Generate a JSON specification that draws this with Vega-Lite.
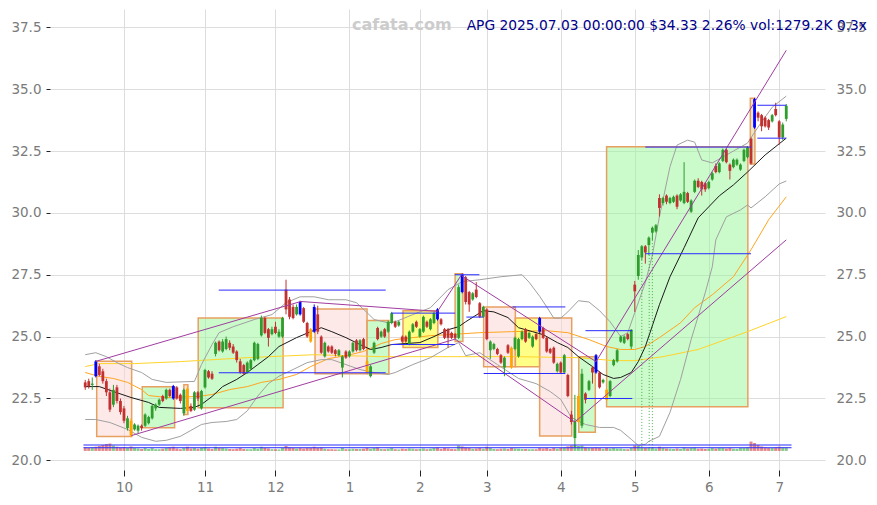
{
"$schema":"https://vega.github.io/schema/vega-lite/v6.json",
"width":775,"height":461,
"autosize":{"type":"none"},
"padding":{"left":50,"top":9,"right":52,"bottom":35},
"background":"white",
"title":{"text":"APG 2025.07.03 00:00:00 $34.33 2.26% vol:1279.2K 0.3x","anchor":"end","frame":"group","orient":"top","offset":-35,"dx":42,"fontSize":13.8,"fontWeight":"normal","color":"#00008b","font":"DejaVu Sans","baseline":"alphabetic"},
"config":{"view":{"stroke":null},"font":"DejaVu Sans","scale":{"continuousPadding":0}},
"resolve":{"axis":{"x":"independent","y":"independent"}},
"datasets":{
"k":[
{"i":0,"o":23.15,"h":23.25,"l":22.85,"c":22.95,"v":20.52},
{"i":1,"o":23.2,"h":23.3,"l":22.9,"c":23.0,"v":20.5},
{"i":2,"o":23.05,"h":23.35,"l":22.85,"c":23.1,"v":20.52},
{"i":3,"o":23.4,"h":24.05,"l":23.35,"c":24.0,"v":20.55,"t":"b"},
{"i":4,"o":23.8,"h":23.9,"l":23.4,"c":23.45,"v":20.58},
{"i":5,"o":23.6,"h":23.7,"l":23.1,"c":23.2,"v":20.62},
{"i":6,"o":23.2,"h":23.3,"l":22.6,"c":22.75,"v":20.66},
{"i":7,"o":22.75,"h":22.9,"l":21.95,"c":22.05,"v":20.68},
{"i":8,"o":22.25,"h":23.05,"l":22.15,"c":22.85,"v":20.6},
{"i":9,"o":22.95,"h":23.05,"l":22.3,"c":22.4,"v":20.55},
{"i":10,"o":22.4,"h":22.5,"l":21.85,"c":21.95,"v":20.52},
{"i":11,"o":22.1,"h":22.2,"l":21.5,"c":21.6,"v":20.54},
{"i":12,"o":21.3,"h":21.8,"l":21.2,"c":21.7,"v":20.5},
{"i":13,"o":21.6,"h":21.7,"l":20.95,"c":21.0,"v":20.56,"t":"o"},
{"i":14,"o":21.25,"h":21.5,"l":21.2,"c":21.45,"v":20.5},
{"i":15,"o":21.2,"h":21.45,"l":21.1,"c":21.4,"v":20.48},
{"i":16,"o":21.4,"h":21.45,"l":21.2,"c":21.3,"v":20.46},
{"i":17,"o":21.4,"h":21.9,"l":21.35,"c":21.85,"v":20.5},
{"i":18,"o":21.5,"h":21.8,"l":21.45,"c":21.75,"v":20.46},
{"i":19,"o":21.7,"h":22.25,"l":21.65,"c":22.2,"v":20.5},
{"i":20,"o":22.1,"h":22.3,"l":22.0,"c":22.25,"v":20.45},
{"i":21,"o":22.25,"h":22.5,"l":22.2,"c":22.45,"v":20.45},
{"i":22,"o":22.6,"h":22.65,"l":22.35,"c":22.4,"v":20.47},
{"i":23,"o":22.5,"h":22.9,"l":22.45,"c":22.85,"v":20.5},
{"i":24,"o":22.85,"h":22.9,"l":22.55,"c":22.6,"v":20.52},
{"i":25,"o":22.5,"h":23.05,"l":22.45,"c":23.0,"v":20.55,"t":"b"},
{"i":26,"o":22.95,"h":23.0,"l":22.45,"c":22.5,"v":20.48},
{"i":27,"o":22.65,"h":22.7,"l":22.3,"c":22.4,"v":20.45},
{"i":28,"o":21.9,"h":22.9,"l":21.8,"c":22.85,"v":20.5},
{"i":29,"o":22.9,"h":23.0,"l":21.9,"c":22.0,"v":20.55,"t":"o"},
{"i":30,"o":22.2,"h":22.3,"l":21.95,"c":22.0,"v":20.48},
{"i":31,"o":22.05,"h":22.8,"l":22.0,"c":22.75,"v":20.5},
{"i":32,"o":22.75,"h":22.8,"l":22.4,"c":22.5,"v":20.47},
{"i":33,"o":22.1,"h":22.85,"l":22.05,"c":22.8,"v":20.5},
{"i":34,"o":22.95,"h":23.7,"l":22.9,"c":23.65,"v":20.54},
{"i":35,"o":23.6,"h":23.65,"l":23.3,"c":23.35,"v":20.48},
{"i":36,"o":23.5,"h":23.6,"l":23.25,"c":23.3,"v":20.46},
{"i":37,"o":24.3,"h":24.8,"l":24.2,"c":24.75,"v":20.55},
{"i":38,"o":24.8,"h":24.85,"l":24.4,"c":24.45,"v":20.5},
{"i":39,"o":24.4,"h":24.9,"l":24.35,"c":24.8,"v":20.5},
{"i":40,"o":24.5,"h":25.0,"l":24.45,"c":24.9,"v":20.48},
{"i":41,"o":24.75,"h":24.85,"l":24.45,"c":24.55,"v":20.46},
{"i":42,"o":24.6,"h":24.7,"l":24.3,"c":24.35,"v":20.45},
{"i":43,"o":24.4,"h":24.45,"l":23.95,"c":24.05,"v":20.47},
{"i":44,"o":24.0,"h":24.1,"l":23.5,"c":23.55,"v":20.5},
{"i":45,"o":23.85,"h":23.9,"l":23.45,"c":23.5,"v":20.46},
{"i":46,"o":23.55,"h":24.0,"l":23.5,"c":23.95,"v":20.45},
{"i":47,"o":23.7,"h":24.1,"l":23.65,"c":24.05,"v":20.45},
{"i":48,"o":24.05,"h":24.8,"l":24.0,"c":24.75,"v":20.5},
{"i":49,"o":24.1,"h":24.75,"l":24.05,"c":24.7,"v":20.47},
{"i":50,"o":25.05,"h":25.85,"l":25.0,"c":25.75,"v":20.55},
{"i":51,"o":25.75,"h":25.8,"l":25.1,"c":25.15,"v":20.5},
{"i":52,"o":25.3,"h":25.35,"l":24.6,"c":24.95,"v":20.48},
{"i":53,"o":25.1,"h":25.4,"l":25.05,"c":25.3,"v":20.45},
{"i":54,"o":25.4,"h":25.6,"l":25.1,"c":25.15,"v":20.45},
{"i":55,"o":25.0,"h":25.3,"l":24.95,"c":25.2,"v":20.44},
{"i":56,"o":25.0,"h":25.8,"l":24.95,"c":25.75,"v":20.5},
{"i":57,"o":26.9,"h":27.3,"l":25.9,"c":26.1,"v":20.58},
{"i":58,"o":26.5,"h":26.6,"l":25.7,"c":25.8,"v":20.52},
{"i":59,"o":26.2,"h":26.3,"l":25.7,"c":25.75,"v":20.5},
{"i":60,"o":25.9,"h":26.3,"l":25.85,"c":26.2,"v":20.48},
{"i":61,"o":25.9,"h":26.45,"l":25.85,"c":26.4,"v":20.5,"t":"b"},
{"i":62,"o":26.15,"h":26.2,"l":25.55,"c":25.6,"v":20.48},
{"i":63,"o":25.55,"h":25.6,"l":24.95,"c":25.0,"v":20.5},
{"i":64,"o":25.3,"h":25.35,"l":24.75,"c":24.8,"v":20.5,"t":"o"},
{"i":65,"o":25.2,"h":26.3,"l":25.15,"c":26.2,"v":20.55,"t":"b"},
{"i":66,"o":25.9,"h":26.25,"l":25.1,"c":25.2,"v":20.5},
{"i":67,"o":25.0,"h":25.05,"l":24.3,"c":24.35,"v":20.52},
{"i":68,"o":24.2,"h":24.8,"l":24.15,"c":24.75,"v":20.47},
{"i":69,"o":24.6,"h":24.65,"l":24.35,"c":24.4,"v":20.45},
{"i":70,"o":24.6,"h":24.65,"l":24.3,"c":24.35,"v":20.45},
{"i":71,"o":24.45,"h":24.5,"l":24.2,"c":24.3,"v":20.44},
{"i":72,"o":24.25,"h":24.5,"l":24.2,"c":24.45,"v":20.44},
{"i":73,"o":23.75,"h":24.25,"l":23.35,"c":24.2,"v":20.5},
{"i":74,"o":24.4,"h":24.45,"l":24.1,"c":24.15,"v":20.45},
{"i":75,"o":24.2,"h":24.45,"l":24.15,"c":24.4,"v":20.45},
{"i":76,"o":24.4,"h":24.8,"l":24.35,"c":24.75,"v":20.47},
{"i":77,"o":24.85,"h":24.9,"l":24.4,"c":24.45,"v":20.46},
{"i":78,"o":24.45,"h":24.9,"l":24.4,"c":24.85,"v":20.46},
{"i":79,"o":24.9,"h":24.95,"l":24.45,"c":24.5,"v":20.47},
{"i":80,"o":24.0,"h":24.05,"l":23.5,"c":23.55,"v":20.5,"t":"o"},
{"i":81,"o":23.4,"h":23.85,"l":23.35,"c":23.8,"v":20.47},
{"i":82,"o":24.35,"h":24.8,"l":24.3,"c":24.75,"v":20.5},
{"i":83,"o":25.35,"h":25.4,"l":24.85,"c":24.9,"v":20.52},
{"i":84,"o":25.0,"h":25.25,"l":24.95,"c":25.2,"v":20.46},
{"i":85,"o":25.3,"h":25.35,"l":24.95,"c":25.0,"v":20.45},
{"i":86,"o":25.2,"h":25.65,"l":25.15,"c":25.6,"v":20.47},
{"i":87,"o":25.55,"h":26.0,"l":25.5,"c":25.95,"v":20.5},
{"i":88,"o":25.6,"h":25.65,"l":25.35,"c":25.4,"v":20.45},
{"i":89,"o":25.45,"h":25.65,"l":25.4,"c":25.6,"v":20.44},
{"i":90,"o":25.0,"h":25.05,"l":24.75,"c":24.8,"v":20.47},
{"i":91,"o":25.0,"h":25.05,"l":24.75,"c":24.8,"v":20.46},
{"i":92,"o":24.7,"h":25.25,"l":24.65,"c":25.2,"v":20.48},
{"i":93,"o":25.2,"h":25.55,"l":25.15,"c":25.5,"v":20.47},
{"i":94,"o":25.6,"h":25.65,"l":25.35,"c":25.4,"v":20.45},
{"i":95,"o":25.0,"h":25.35,"l":24.95,"c":25.3,"v":20.46},
{"i":96,"o":25.2,"h":25.85,"l":25.15,"c":25.8,"v":20.48},
{"i":97,"o":25.6,"h":25.65,"l":25.35,"c":25.4,"v":20.45},
{"i":98,"o":25.3,"h":25.75,"l":25.25,"c":25.7,"v":20.47},
{"i":99,"o":25.55,"h":26.0,"l":25.5,"c":25.95,"v":20.5},
{"i":100,"o":25.7,"h":26.15,"l":25.65,"c":26.1,"v":20.52,"t":"b"},
{"i":101,"o":25.7,"h":25.75,"l":25.45,"c":25.5,"v":20.46},
{"i":102,"o":25.3,"h":25.35,"l":24.9,"c":24.95,"v":20.5},
{"i":103,"o":25.3,"h":25.35,"l":24.55,"c":24.95,"v":20.48},
{"i":104,"o":25.15,"h":25.2,"l":24.9,"c":24.95,"v":20.46},
{"i":105,"o":25.1,"h":25.15,"l":24.9,"c":24.95,"v":20.45},
{"i":106,"o":24.95,"h":27.1,"l":24.9,"c":27.0,"v":20.6},
{"i":107,"o":26.8,"h":27.55,"l":26.75,"c":27.5,"v":20.56,"t":"b"},
{"i":108,"o":27.4,"h":27.45,"l":26.3,"c":26.4,"v":20.52},
{"i":109,"o":26.8,"h":26.85,"l":26.0,"c":26.3,"v":20.5},
{"i":110,"o":26.5,"h":26.8,"l":26.45,"c":26.75,"v":20.47},
{"i":111,"o":26.9,"h":27.2,"l":26.55,"c":26.6,"v":20.48},
{"i":112,"o":26.35,"h":26.4,"l":25.75,"c":25.8,"v":20.5},
{"i":113,"o":25.8,"h":26.25,"l":25.75,"c":26.2,"v":20.47},
{"i":114,"o":26.1,"h":26.15,"l":24.85,"c":24.9,"v":20.55},
{"i":115,"o":24.45,"h":24.85,"l":24.1,"c":24.8,"v":20.5},
{"i":116,"o":24.5,"h":24.75,"l":24.45,"c":24.7,"v":20.46},
{"i":117,"o":24.5,"h":24.55,"l":24.25,"c":24.3,"v":20.45},
{"i":118,"o":24.25,"h":24.3,"l":23.9,"c":23.95,"v":20.47},
{"i":119,"o":23.75,"h":24.2,"l":23.4,"c":24.15,"v":20.48},
{"i":120,"o":24.65,"h":24.7,"l":24.3,"c":24.35,"v":20.46},
{"i":121,"o":24.55,"h":24.6,"l":23.7,"c":23.75,"v":20.5,"t":"o"},
{"i":122,"o":24.5,"h":25.0,"l":24.45,"c":24.95,"v":20.48},
{"i":123,"o":24.2,"h":24.95,"l":24.15,"c":24.9,"v":20.47},
{"i":124,"o":24.9,"h":25.25,"l":24.85,"c":25.2,"v":20.46},
{"i":125,"o":25.3,"h":25.35,"l":24.75,"c":24.8,"v":20.46},
{"i":126,"o":24.95,"h":25.2,"l":24.9,"c":25.15,"v":20.45},
{"i":127,"o":24.6,"h":25.05,"l":24.55,"c":25.0,"v":20.45},
{"i":128,"o":25.1,"h":25.15,"l":24.85,"c":24.9,"v":20.45},
{"i":129,"o":25.2,"h":25.8,"l":25.15,"c":25.75,"v":20.5,"t":"b"},
{"i":130,"o":25.35,"h":25.4,"l":24.9,"c":24.95,"v":20.48},
{"i":131,"o":24.95,"h":25.0,"l":24.35,"c":24.4,"v":20.5},
{"i":132,"o":24.5,"h":24.55,"l":24.3,"c":24.35,"v":20.46},
{"i":133,"o":24.55,"h":24.6,"l":23.9,"c":23.95,"v":20.5},
{"i":134,"o":23.6,"h":23.95,"l":23.55,"c":23.9,"v":20.47},
{"i":135,"o":23.95,"h":24.0,"l":23.5,"c":23.55,"v":20.5},
{"i":136,"o":23.55,"h":24.3,"l":23.5,"c":24.25,"v":20.52},
{"i":137,"o":23.45,"h":23.5,"l":22.55,"c":22.6,"v":20.56},
{"i":138,"o":21.85,"h":22.0,"l":21.45,"c":21.55,"v":20.6},
{"i":139,"o":20.9,"h":22.65,"l":20.5,"c":21.6,"v":20.62},
{"i":140,"o":21.55,"h":22.7,"l":21.5,"c":22.6,"v":20.58,"t":"o"},
{"i":141,"o":21.4,"h":23.7,"l":21.3,"c":23.5,"v":20.6},
{"i":142,"o":22.7,"h":22.75,"l":22.3,"c":22.45,"v":20.52},
{"i":143,"o":22.85,"h":23.25,"l":22.8,"c":23.2,"v":20.5},
{"i":144,"o":23.75,"h":23.8,"l":23.1,"c":23.55,"v":20.5},
{"i":145,"o":23.55,"h":24.3,"l":23.5,"c":24.25,"v":20.52,"t":"b"},
{"i":146,"o":23.55,"h":23.6,"l":22.9,"c":22.95,"v":20.5},
{"i":147,"o":23.15,"h":23.3,"l":23.1,"c":23.25,"v":20.47},
{"i":148,"o":22.85,"h":22.9,"l":22.4,"c":22.45,"v":20.5,"t":"o"},
{"i":149,"o":22.6,"h":23.25,"l":22.55,"c":23.2,"v":20.48},
{"i":150,"o":23.85,"h":24.1,"l":23.8,"c":24.05,"v":20.5},
{"i":151,"o":24.0,"h":24.5,"l":23.95,"c":24.45,"v":20.48},
{"i":152,"o":24.8,"h":25.05,"l":24.75,"c":25.0,"v":20.48},
{"i":153,"o":24.75,"h":25.05,"l":24.7,"c":25.0,"v":20.46},
{"i":154,"o":25.1,"h":25.15,"l":24.85,"c":24.9,"v":20.45},
{"i":155,"o":24.6,"h":25.3,"l":24.5,"c":25.28,"v":20.5},
{"i":156,"o":27.1,"h":27.25,"l":26.0,"c":26.83,"v":20.6},
{"i":157,"o":27.45,"h":28.5,"l":27.3,"c":28.3,"v":20.58},
{"i":158,"o":28.2,"h":28.7,"l":28.1,"c":28.65,"v":20.52},
{"i":159,"o":28.65,"h":28.7,"l":27.95,"c":28.4,"v":20.5},
{"i":160,"o":28.7,"h":29.05,"l":28.3,"c":29.0,"v":20.5},
{"i":161,"o":29.2,"h":29.45,"l":28.9,"c":29.4,"v":20.52},
{"i":162,"o":29.25,"h":29.55,"l":29.2,"c":29.5,"v":20.48},
{"i":163,"o":30.6,"h":30.75,"l":29.85,"c":30.2,"v":20.55},
{"i":164,"o":30.4,"h":30.65,"l":30.3,"c":30.6,"v":20.5},
{"i":165,"o":30.7,"h":30.75,"l":30.35,"c":30.45,"v":20.48},
{"i":166,"o":30.4,"h":30.65,"l":30.35,"c":30.6,"v":20.47},
{"i":167,"o":30.45,"h":30.7,"l":30.4,"c":30.65,"v":20.46},
{"i":168,"o":30.7,"h":30.75,"l":30.15,"c":30.25,"v":20.48},
{"i":169,"o":30.5,"h":30.8,"l":30.45,"c":30.75,"v":20.46},
{"i":170,"o":30.4,"h":32.05,"l":30.35,"c":30.85,"v":20.52},
{"i":171,"o":30.8,"h":30.85,"l":30.4,"c":30.45,"v":20.48},
{"i":172,"o":30.05,"h":30.55,"l":30.0,"c":30.5,"v":20.5},
{"i":173,"o":30.85,"h":31.35,"l":30.8,"c":31.3,"v":20.52},
{"i":174,"o":31.3,"h":31.4,"l":31.0,"c":31.05,"v":20.47},
{"i":175,"o":31.25,"h":31.3,"l":30.7,"c":30.95,"v":20.48},
{"i":176,"o":31.2,"h":31.25,"l":30.85,"c":30.95,"v":20.46},
{"i":177,"o":31.0,"h":31.3,"l":30.95,"c":31.25,"v":20.47},
{"i":178,"o":31.35,"h":31.65,"l":31.3,"c":31.6,"v":20.5},
{"i":179,"o":31.9,"h":32.0,"l":31.6,"c":31.65,"v":20.48},
{"i":180,"o":31.65,"h":32.05,"l":31.6,"c":32.0,"v":20.5},
{"i":181,"o":32.1,"h":32.6,"l":32.05,"c":32.55,"v":20.5},
{"i":182,"o":32.55,"h":32.6,"l":32.0,"c":32.05,"v":20.48},
{"i":183,"o":31.95,"h":32.0,"l":31.35,"c":31.7,"v":20.5},
{"i":184,"o":31.85,"h":32.2,"l":31.8,"c":32.15,"v":20.47},
{"i":185,"o":31.95,"h":32.2,"l":31.9,"c":32.15,"v":20.46},
{"i":186,"o":31.75,"h":32.0,"l":31.7,"c":31.95,"v":20.5},
{"i":187,"o":32.1,"h":32.6,"l":32.05,"c":32.55,"v":20.5},
{"i":188,"o":32.25,"h":32.7,"l":32.2,"c":32.65,"v":20.52},
{"i":189,"o":33.0,"h":33.05,"l":31.95,"c":32.0,"v":20.76},
{"i":190,"o":33.45,"h":34.65,"l":33.4,"c":34.6,"v":20.7,"t":"b"},
{"i":191,"o":34.05,"h":34.1,"l":33.7,"c":33.85,"v":20.62},
{"i":192,"o":33.95,"h":34.0,"l":33.3,"c":33.5,"v":20.56},
{"i":193,"o":33.85,"h":33.9,"l":33.45,"c":33.5,"v":20.52},
{"i":194,"o":33.75,"h":33.8,"l":33.35,"c":33.45,"v":20.5},
{"i":195,"o":33.7,"h":34.0,"l":33.65,"c":33.95,"v":20.5},
{"i":196,"o":34.2,"h":34.45,"l":33.9,"c":33.95,"v":20.52},
{"i":197,"o":33.7,"h":33.75,"l":32.75,"c":33.05,"v":20.55},
{"i":198,"o":33.05,"h":33.65,"l":32.95,"c":33.57,"v":20.52},
{"i":199,"o":33.8,"h":34.4,"l":33.7,"c":34.33,"v":20.52}
],
"up":[{"i":0,"p":24.27},{"i":3,"p":24.35},{"i":6,"p":24.19},{"i":9,"p":23.95},{"i":12,"p":23.75},{"i":16,"p":23.55},{"i":19,"p":23.27},{"i":23,"p":23.15},{"i":31,"p":23.19},{"i":33,"p":23.87},{"i":36,"p":24.68},{"i":38,"p":25.16},{"i":42,"p":25.4},{"i":48,"p":25.69},{"i":53,"p":25.89},{"i":57,"p":26.37},{"i":61,"p":26.61},{"i":65,"p":26.61},{"i":69,"p":26.49},{"i":74,"p":26.49},{"i":77,"p":26.37},{"i":80,"p":25.97},{"i":82,"p":25.69},{"i":86,"p":25.56},{"i":88,"p":25.6},{"i":93,"p":25.89},{"i":98,"p":26.17},{"i":103,"p":26.9},{"i":107,"p":27.22},{"i":112,"p":27.3},{"i":118,"p":27.42},{"i":124,"p":27.5},{"i":126,"p":27.2},{"i":129,"p":26.63},{"i":131,"p":26.2},{"i":133,"p":25.75},{"i":135,"p":25.75},{"i":137,"p":26.0},{"i":140,"p":26.45},{"i":143,"p":26.4},{"i":146,"p":26.05},{"i":149,"p":25.6},{"i":152,"p":25.0},{"i":154,"p":25.16},{"i":156,"p":25.97},{"i":159,"p":27.18},{"i":161,"p":28.3},{"i":163,"p":29.85},{"i":166,"p":31.87},{"i":168,"p":32.74},{"i":171,"p":32.94},{"i":173,"p":32.86},{"i":175,"p":32.14},{"i":178,"p":32.02},{"i":182,"p":32.34},{"i":188,"p":32.82},{"i":191,"p":33.47},{"i":195,"p":34.27},{"i":199,"p":34.72}],
"lo":[{"i":0,"p":21.65},{"i":3,"p":21.65},{"i":7,"p":21.53},{"i":12,"p":21.25},{"i":16,"p":20.93},{"i":20,"p":20.77},{"i":23,"p":20.81},{"i":27,"p":20.97},{"i":30,"p":21.21},{"i":33,"p":21.45},{"i":36,"p":21.53},{"i":40,"p":21.57},{"i":43,"p":21.65},{"i":46,"p":22.0},{"i":49,"p":22.6},{"i":52,"p":23.1},{"i":55,"p":23.4},{"i":59,"p":23.67},{"i":63,"p":23.95},{"i":67,"p":24.07},{"i":70,"p":24.07},{"i":74,"p":23.87},{"i":78,"p":23.67},{"i":82,"p":23.55},{"i":86,"p":23.47},{"i":88,"p":23.55},{"i":93,"p":23.87},{"i":98,"p":24.15},{"i":103,"p":24.56},{"i":106,"p":24.76},{"i":108,"p":24.23},{"i":112,"p":24.35},{"i":117,"p":23.87},{"i":123,"p":23.31},{"i":128,"p":23.1},{"i":132,"p":22.78},{"i":135,"p":22.46},{"i":138,"p":21.73},{"i":142,"p":21.45},{"i":146,"p":21.33},{"i":150,"p":21.33},{"i":152,"p":21.21},{"i":155,"p":20.85},{"i":157,"p":20.6},{"i":159,"p":20.65},{"i":160,"p":20.77},{"i":163,"p":20.97},{"i":166,"p":21.94},{"i":169,"p":23.27},{"i":172,"p":24.88},{"i":176,"p":26.77},{"i":178,"p":27.82},{"i":179,"p":28.91},{"i":182,"p":29.84},{"i":186,"p":30.12},{"i":188,"p":30.32},{"i":189,"p":30.2},{"i":193,"p":30.65},{"i":197,"p":31.17},{"i":199,"p":31.29}],
"ma":[{"i":0,"p":22.98},{"i":4,"p":22.98},{"i":8,"p":22.78},{"i":13,"p":22.54},{"i":18,"p":22.34},{"i":21,"p":22.14},{"i":27,"p":22.1},{"i":31,"p":22.14},{"i":33,"p":22.26},{"i":36,"p":22.58},{"i":39,"p":22.98},{"i":43,"p":23.27},{"i":46,"p":23.55},{"i":49,"p":23.87},{"i":52,"p":24.19},{"i":55,"p":24.6},{"i":60,"p":24.96},{"i":64,"p":25.2},{"i":67,"p":25.36},{"i":70,"p":25.2},{"i":74,"p":24.96},{"i":78,"p":24.68},{"i":81,"p":24.48},{"i":84,"p":24.56},{"i":87,"p":24.68},{"i":91,"p":24.72},{"i":95,"p":24.76},{"i":99,"p":25.0},{"i":103,"p":25.28},{"i":106,"p":25.4},{"i":108,"p":25.6},{"i":113,"p":26.05},{"i":116,"p":26.0},{"i":120,"p":25.77},{"i":123,"p":25.36},{"i":127,"p":25.2},{"i":130,"p":25.08},{"i":134,"p":24.76},{"i":137,"p":24.56},{"i":140,"p":24.19},{"i":144,"p":23.79},{"i":147,"p":23.47},{"i":150,"p":23.31},{"i":152,"p":23.35},{"i":155,"p":23.55},{"i":157,"p":23.99},{"i":159,"p":24.6},{"i":163,"p":26.29},{"i":166,"p":27.42},{"i":170,"p":28.59},{"i":174,"p":29.8},{"i":180,"p":30.69},{"i":184,"p":31.13},{"i":188,"p":31.65},{"i":193,"p":32.34},{"i":199,"p":33.02}],
"m60":[{"i":0,"p":23.55},{"i":4,"p":23.39},{"i":8,"p":23.31},{"i":12,"p":23.15},{"i":16,"p":22.86},{"i":18,"p":22.62},{"i":23,"p":22.54},{"i":32,"p":22.58},{"i":36,"p":22.66},{"i":41,"p":22.86},{"i":46,"p":22.98},{"i":50,"p":23.15},{"i":55,"p":23.27},{"i":60,"p":23.47},{"i":64,"p":23.79},{"i":69,"p":24.11},{"i":74,"p":24.23},{"i":79,"p":24.4},{"i":84,"p":24.72},{"i":88,"p":24.88},{"i":93,"p":24.96},{"i":98,"p":25.04},{"i":103,"p":25.08},{"i":112,"p":25.16},{"i":121,"p":25.2},{"i":131,"p":25.24},{"i":137,"p":25.16},{"i":143,"p":24.88},{"i":148,"p":24.6},{"i":152,"p":24.48},{"i":156,"p":24.48},{"i":159,"p":24.6},{"i":163,"p":24.96},{"i":169,"p":25.56},{"i":173,"p":26.17},{"i":178,"p":26.69},{"i":184,"p":27.42},{"i":189,"p":28.51},{"i":194,"p":29.72},{"i":199,"p":30.65}],
"m120":[{"i":0,"p":23.79},{"i":4,"p":23.91},{"i":14,"p":23.91},{"i":27,"p":23.99},{"i":46,"p":24.15},{"i":65,"p":24.27},{"i":84,"p":24.19},{"i":103,"p":24.19},{"i":122,"p":24.19},{"i":140,"p":24.15},{"i":150,"p":24.03},{"i":156,"p":24.03},{"i":164,"p":24.19},{"i":174,"p":24.48},{"i":188,"p":25.2},{"i":199,"p":25.81}],
"seg":[
{"i":3,"p":24.0,"i2":61.2,"p2":26.42,"k":"p"},
{"i":61.2,"p":26.42,"i2":100,"p2":26.02,"k":"p"},
{"i":100,"p":26.02,"i2":107,"p2":27.54,"k":"p"},
{"i":107,"p":27.45,"i2":145,"p2":23.99,"k":"p"},
{"i":145,"p":23.99,"i2":199,"p2":36.57,"k":"p"},
{"i":13.1,"p":21.0,"i2":105,"p2":24.9,"k":"p"},
{"i":105,"p":24.9,"i2":139,"p2":21.55,"k":"p"},
{"i":139,"p":21.55,"i2":199,"p2":28.91,"k":"p"},
{"i":37.9,"p":26.88,"i2":85.3,"p2":26.88,"k":"b"},
{"i":37.9,"p":23.54,"i2":85.3,"p2":23.54,"k":"b"},
{"i":86.9,"p":25.95,"i2":105,"p2":25.95,"k":"b"},
{"i":86.9,"p":24.68,"i2":105,"p2":24.68,"k":"b"},
{"i":104.9,"p":27.5,"i2":111.9,"p2":27.5,"k":"b"},
{"i":108.2,"p":25.79,"i2":112.9,"p2":25.79,"k":"b"},
{"i":121.3,"p":26.2,"i2":136.3,"p2":26.2,"k":"b"},
{"i":113.1,"p":23.51,"i2":136.3,"p2":23.51,"k":"b"},
{"i":142,"p":25.24,"i2":155.3,"p2":25.24,"k":"b"},
{"i":142,"p":22.5,"i2":155.3,"p2":22.5,"k":"b"},
{"i":159,"p":28.35,"i2":189,"p2":28.35,"k":"b"},
{"i":159,"p":32.66,"i2":189,"p2":32.66,"k":"b"},
{"i":190.8,"p":34.35,"i2":199,"p2":34.35,"k":"b"},
{"i":190.8,"p":33.02,"i2":199,"p2":33.02,"k":"b"},
{"i":-0.5,"p":20.62,"i2":200.5,"p2":20.62,"k":"b"},
{"i":-0.5,"p":20.51,"i2":200.5,"p2":20.51,"k":"b"}
],
"dot":[{"i":158,"p":28.1,"p2":20.45},{"i":160.1,"p":28.3,"p2":20.45},{"i":161,"p":28.9,"p2":20.45}],
"box":[
{"i":3.26,"i2":13.18,"p":24.0,"p2":20.96,"k":"r"},
{"i":16.19,"i2":25.38,"p":22.97,"p2":21.32,"k":"g"},
{"i":28.0,"i2":29.15,"p":23.06,"p2":21.85,"k":"r"},
{"i":32.07,"i2":56.17,"p":25.75,"p2":22.13,"k":"g"},
{"i":65.24,"i2":80.0,"p":26.12,"p2":23.5,"k":"r"},
{"i":80.0,"i2":86.2,"p":25.65,"p2":23.5,"k":"g"},
{"i":90.2,"i2":100.1,"p":26.05,"p2":24.56,"k":"y"},
{"i":105.0,"i2":107.2,"p":27.54,"p2":24.8,"k":"g"},
{"i":113.1,"i2":122.1,"p":26.2,"p2":23.78,"k":"r"},
{"i":122.1,"i2":129.0,"p":25.75,"p2":23.78,"k":"y"},
{"i":129.0,"i2":138.1,"p":25.75,"p2":20.98,"k":"r"},
{"i":140.1,"i2":144.8,"p":24.19,"p2":21.14,"k":"g"},
{"i":148.0,"i2":188.1,"p":32.67,"p2":22.17,"k":"g"},
{"i":188.8,"i2":190.1,"p":34.63,"p2":31.98,"k":"t"}
],
"wm":[{"i":89.9,"p":37.59,"s":"cafata.com"}]
},
"layer":[
{"data":{"name":"box"},
 "mark":{"type":"rect","stroke":"#e8a060","strokeWidth":1.5,"fillOpacity":0.5},
 "encoding":{
  "x":{"field":"i","type":"quantitative","scale":{"domain":[-10,210],"nice":false,"zero":false,"padding":0},
   "axis":{"orient":"bottom","values":[11,34,54,75,95,114,135,156,177,197],"labelExpr":"datum.value==11?'10':datum.value==34?'11':datum.value==54?'12':datum.value==75?'1':datum.value==95?'2':datum.value==114?'3':datum.value==135?'4':datum.value==156?'5':datum.value==177?'6':'7'","grid":true,"gridColor":"#dddddd","gridWidth":1,"domain":false,"ticks":true,"tickColor":"#222222","tickSize":6,"labelPadding":4,"labelColor":"#7a7a7a","labelFontSize":13.5,"labelFont":"DejaVu Sans","labelOverlap":false,"labelFlush":false,"title":null}},
  "x2":{"field":"i2"},
  "y":{"field":"p","type":"quantitative","scale":{"domain":[19.61,38.24],"nice":false,"zero":false,"padding":0},
   "axis":{"orient":"left","values":[20,22.5,25,27.5,30,32.5,35,37.5],"format":".1f","grid":true,"gridColor":"#dddddd","gridWidth":1,"domain":false,"ticks":true,"tickColor":"#222222","tickSize":4,"labelPadding":5,"labelColor":"#7a7a7a","labelFontSize":13.5,"labelFont":"DejaVu Sans","labelOverlap":false,"labelFlush":false,"title":null}},
  "y2":{"field":"p2"},
  "fill":{"condition":[{"test":"datum.k=='r'","value":"#fbd5d2"},{"test":"datum.k=='g'","value":"#98f598"},{"test":"datum.k=='y'","value":"#ffff10"}],"value":"#d4cf90"}
 }},
{"data":{"name":"m120"},
 "mark":{"type":"line","color":"#ffd42a","strokeWidth":1},
 "encoding":{
  "x":{"field":"i","type":"quantitative","scale":{"domain":[-10,210],"nice":false,"zero":false,"padding":0},"axis":null},
  "y":{"field":"p","type":"quantitative","scale":{"domain":[19.61,38.24],"nice":false,"zero":false,"padding":0},
   "axis":{"orient":"right","values":[20,22.5,25,27.5,30,32.5,35,37.5],"format":".1f","grid":false,"domain":false,"ticks":false,"tickSize":0,"labelPadding":11,"labelColor":"#7a7a7a","labelFontSize":13.5,"labelFont":"DejaVu Sans","labelOverlap":false,"labelFlush":false,"title":null}}
 }},
{"data":{"name":"m60"},
 "mark":{"type":"line","color":"#ffa520","strokeWidth":1},
 "encoding":{
  "x":{"field":"i","type":"quantitative","scale":{"domain":[-10,210],"nice":false,"zero":false,"padding":0},"axis":null},
  "y":{"field":"p","type":"quantitative","scale":{"domain":[19.61,38.24],"nice":false,"zero":false,"padding":0},"axis":null}
 }},
{"data":{"name":"up"},
 "mark":{"type":"line","color":"#a0a0a0","strokeWidth":1},
 "encoding":{
  "x":{"field":"i","type":"quantitative","scale":{"domain":[-10,210],"nice":false,"zero":false,"padding":0},"axis":null},
  "y":{"field":"p","type":"quantitative","scale":{"domain":[19.61,38.24],"nice":false,"zero":false,"padding":0},"axis":null}
 }},
{"data":{"name":"lo"},
 "mark":{"type":"line","color":"#a0a0a0","strokeWidth":1},
 "encoding":{
  "x":{"field":"i","type":"quantitative","scale":{"domain":[-10,210],"nice":false,"zero":false,"padding":0},"axis":null},
  "y":{"field":"p","type":"quantitative","scale":{"domain":[19.61,38.24],"nice":false,"zero":false,"padding":0},"axis":null}
 }},
{"data":{"name":"ma"},
 "mark":{"type":"line","color":"#1a1a1a","strokeWidth":1},
 "encoding":{
  "x":{"field":"i","type":"quantitative","scale":{"domain":[-10,210],"nice":false,"zero":false,"padding":0},"axis":null},
  "y":{"field":"p","type":"quantitative","scale":{"domain":[19.61,38.24],"nice":false,"zero":false,"padding":0},"axis":null}
 }},
{"data":{"name":"k"},
 "mark":{"type":"bar","width":3,"opacity":0.6},
 "encoding":{
  "x":{"field":"i","type":"quantitative","scale":{"domain":[-10,210],"nice":false,"zero":false,"padding":0},"axis":null},
  "y":{"field":"v","type":"quantitative","scale":{"domain":[19.61,38.24],"nice":false,"zero":false,"padding":0},"axis":null},
  "y2":{"datum":20.38},
  "color":{"condition":{"test":"datum.c>=datum.o && datum.t!='b'","value":"#3aa53a"},"value":"#d03a3a"}
 }},
{"data":{"name":"dot"},
 "mark":{"type":"rule","color":"#2e9d2e","strokeWidth":0.8,"strokeDash":[1,2]},
 "encoding":{
  "x":{"field":"i","type":"quantitative","scale":{"domain":[-10,210],"nice":false,"zero":false,"padding":0},"axis":null},
  "y":{"field":"p","type":"quantitative","scale":{"domain":[19.61,38.24],"nice":false,"zero":false,"padding":0},"axis":null},
  "y2":{"field":"p2"}
 }},
{"data":{"name":"k"},
 "mark":{"type":"rule","strokeWidth":1},
 "encoding":{
  "x":{"field":"i","type":"quantitative","scale":{"domain":[-10,210],"nice":false,"zero":false,"padding":0},"axis":null},
  "y":{"field":"l","type":"quantitative","scale":{"domain":[19.61,38.24],"nice":false,"zero":false,"padding":0},"axis":null},
  "y2":{"field":"h"},
  "color":{"condition":[{"test":"datum.t=='b'","value":"#0000ff"},{"test":"datum.t=='o'","value":"#ffa500"},{"test":"datum.c>=datum.o","value":"#2e9d2e"}],"value":"#c23030"}
 }},
{"data":{"name":"k"},
 "mark":{"type":"bar","width":2.8},
 "encoding":{
  "x":{"field":"i","type":"quantitative","scale":{"domain":[-10,210],"nice":false,"zero":false,"padding":0},"axis":null},
  "y":{"field":"o","type":"quantitative","scale":{"domain":[19.61,38.24],"nice":false,"zero":false,"padding":0},"axis":null},
  "y2":{"field":"c"},
  "color":{"condition":[{"test":"datum.t=='b'","value":"#0000ff"},{"test":"datum.t=='o'","value":"#ffa500"},{"test":"datum.c>=datum.o","value":"#2e9d2e"}],"value":"#c23030"}
 }},
{"data":{"name":"seg"},
 "mark":{"type":"rule","strokeWidth":1},
 "encoding":{
  "x":{"field":"i","type":"quantitative","scale":{"domain":[-10,210],"nice":false,"zero":false,"padding":0},"axis":null},
  "x2":{"field":"i2"},
  "y":{"field":"p","type":"quantitative","scale":{"domain":[19.61,38.24],"nice":false,"zero":false,"padding":0},"axis":null},
  "y2":{"field":"p2"},
  "color":{"condition":[{"test":"datum.k=='p'","value":"#a03ca0"},{"test":"datum.k=='g'","value":"#909090"}],"value":"#2a2aff"}
 }},
{"data":{"name":"wm"},
 "mark":{"type":"text","font":"DejaVu Sans","fontSize":16,"fontWeight":"bold","color":"#cccccc","align":"center","baseline":"middle"},
 "encoding":{
  "x":{"field":"i","type":"quantitative","scale":{"domain":[-10,210],"nice":false,"zero":false,"padding":0},"axis":null},
  "y":{"field":"p","type":"quantitative","scale":{"domain":[19.61,38.24],"nice":false,"zero":false,"padding":0},"axis":null},
  "text":{"field":"s"}
 }}
]
}
